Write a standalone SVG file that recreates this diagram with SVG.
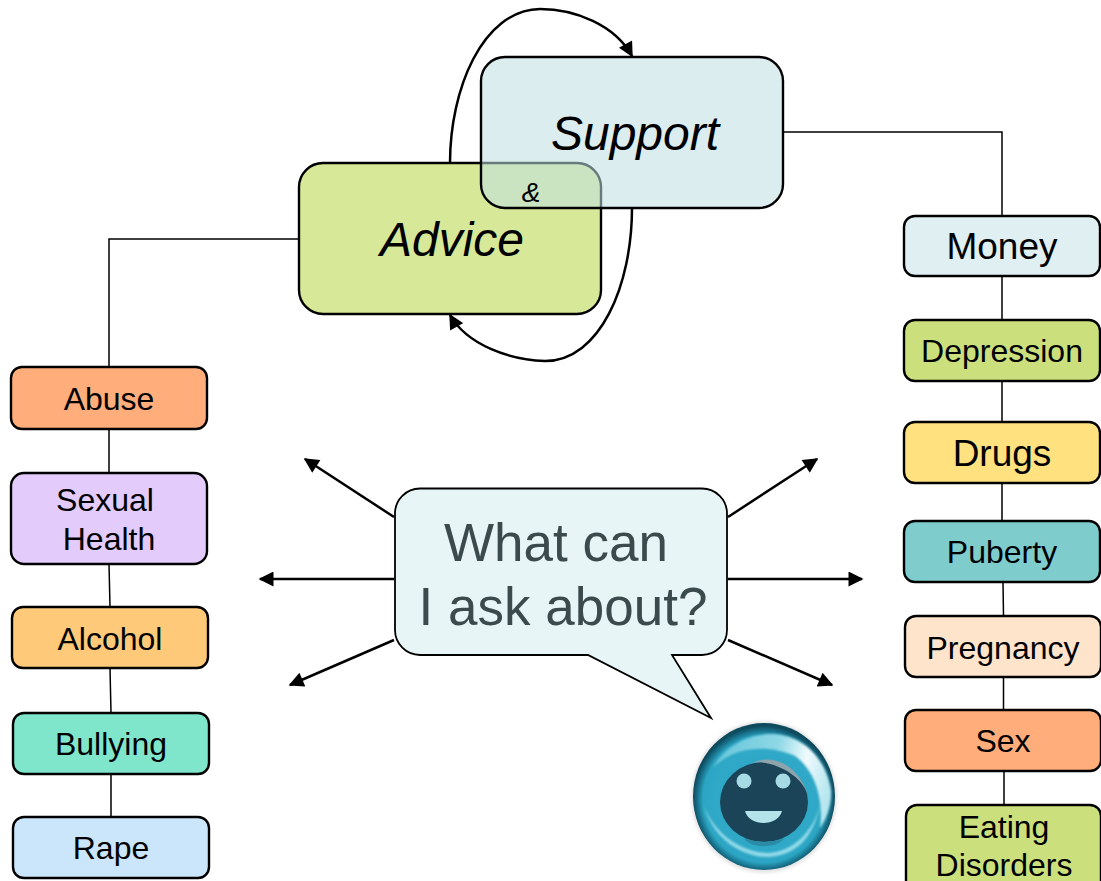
<svg xmlns="http://www.w3.org/2000/svg" width="1101" height="881" viewBox="0 0 1101 881">
<style>
text{font-family:"Liberation Sans",Arial,sans-serif;text-anchor:middle;fill:#000}
.n{stroke:#000;stroke-width:2.4}
.c{fill:none;stroke:#000;stroke-width:1.5}
.a{fill:none;stroke:#000;stroke-width:2.5}
.t{font-size:32px}
.b{font-size:37px}
</style>
<defs>
<marker id="ah" viewBox="0 0 10 10" refX="9" refY="5" markerWidth="16" markerHeight="15" markerUnits="userSpaceOnUse" orient="auto"><path d="M0 0L10 5L0 10Z"/></marker>
<radialGradient id="ring" cx=".5" cy=".52" r=".5"><stop offset="0" stop-color="#2aa3c2"/><stop offset=".7" stop-color="#2fa9c7"/><stop offset=".86" stop-color="#2ba5c3"/><stop offset=".94" stop-color="#176f88"/><stop offset="1" stop-color="#0e4a5e"/></radialGradient>
<linearGradient id="gloss" x1="0" y1=".3" x2="1" y2=".5"><stop offset="0" stop-color="#6fcadd" stop-opacity=".9"/><stop offset=".5" stop-color="#8fd8e6"/><stop offset=".75" stop-color="#f0fbfd"/><stop offset="1" stop-color="#b5e6ef"/></linearGradient>
<filter id="soft" x="-10%" y="-10%" width="120%" height="120%"><feGaussianBlur stdDeviation="1.500"/></filter>
<filter id="s1" x="-10%" y="-10%" width="120%" height="120%"><feGaussianBlur stdDeviation=".8"/></filter>
</defs>
<g id="connectors">
<path class="c" d="M783 132H1002V216"/>
<path class="c" d="M299 239H109V367"/>
<path class="c" d="M1002 276V320M1002 381V422M1002 483V521M1003 582L1003.500 616M1003.500 677V710M1004 771L1004 805"/>
<path class="c" d="M109 429V473M109 564L110 607M110 668L111 713M111 774V817"/>
<path class="a" d="M450 163C450 90 482 10 540 9C575 9 615 25 632 56" marker-end="url(#ah)"/>
<path class="a" d="M632 208C632 285 600 361 545 361C510 360 467 345 450 315" marker-end="url(#ah)"/>
<path class="a" d="M394 517L305 459" marker-end="url(#ah)"/>
<path class="a" d="M394 579H260" marker-end="url(#ah)"/>
<path class="a" d="M394 640L290 685" marker-end="url(#ah)"/>
<path class="a" d="M728 517L817 459" marker-end="url(#ah)"/>
<path class="a" d="M728 579H862" marker-end="url(#ah)"/>
<path class="a" d="M728 640L832 685" marker-end="url(#ah)"/>
</g>
<g id="advice"><rect class="n" x="299" y="163" width="302" height="151" rx="24" fill="#d7e998"/>
<text x="452" y="256" font-size="48" font-style="italic">Advice</text></g>
<g id="support"><rect x="481" y="57" width="302" height="151" rx="24" fill="#bfdee4" fill-opacity=".55" stroke="#000" stroke-width="2.400"/>
<text x="635" y="150" font-size="48" font-style="italic">Support</text></g>
<text x="531" y="202" font-size="28" font-style="italic">&amp;</text>
<g id="money"><rect class="n" x="904" y="216" width="196" height="60" rx="11" fill="#e0eff2"/><text x="1002" y="259" class="b">Money</text></g>
<g id="depression"><rect class="n" x="904" y="320" width="196" height="61" rx="11" fill="#cbe07c"/><text x="1002" y="362" class="t">Depression</text></g>
<g id="drugs"><rect class="n" x="904" y="422" width="196" height="61" rx="11" fill="#ffe27f"/><text x="1002" y="466" class="b">Drugs</text></g>
<g id="puberty"><rect class="n" x="904" y="521" width="196" height="61" rx="11" fill="#7fcccd"/><text x="1002" y="563" class="t">Puberty</text></g>
<g id="pregnancy"><rect class="n" x="905" y="616" width="196" height="61" rx="11" fill="#ffe4cc"/><text x="1003" y="659" class="t">Pregnancy</text></g>
<g id="sex"><rect class="n" x="905" y="710" width="196" height="61" rx="11" fill="#ffad7a"/><text x="1003" y="752" class="t">Sex</text></g>
<g id="eating"><path class="n" d="M917 805H1090a11 11 0 0 1 11 11V890H906V816a11 11 0 0 1 11-11Z" fill="#cbe07c"/><text x="1004" y="838" class="t">Eating</text><text x="1004" y="876" class="t">Disorders</text></g>
<g id="abuse"><rect class="n" x="11" y="367" width="196" height="62" rx="11" fill="#ffad7a"/><text x="109" y="410" class="t">Abuse</text></g>
<g id="sexual"><rect class="n" x="11" y="473" width="196" height="91" rx="13" fill="#e3cbfb"/><text x="105" y="511" class="t">Sexual</text><text x="109" y="550" class="t">Health</text></g>
<g id="alcohol"><rect class="n" x="12" y="607" width="196" height="61" rx="11" fill="#ffc97a"/><text x="110" y="650" class="t">Alcohol</text></g>
<g id="bullying"><rect class="n" x="13" y="713" width="196" height="61" rx="11" fill="#7fe5cb"/><text x="111" y="755" class="t">Bullying</text></g>
<g id="rape"><rect class="n" x="13" y="817" width="196" height="61" rx="11" fill="#cbe5fb"/><text x="111" y="859" class="t">Rape</text></g>
<g id="bubble"><path d="M420 488.500H702a25 25 0 0 1 25 25V630a25 25 0 0 1-25 25H672L711 718L588 655H420a25 25 0 0 1-25-25V513.500a25 25 0 0 1 25-25Z" fill="#e8f5f6" stroke="#000" stroke-width="1.800"/>
<text x="556" y="561" font-size="53" style="fill:#3b4a4c">What can</text>
<text x="563" y="625" font-size="53" style="fill:#3b4a4c">I ask about?</text></g>
<g id="face">
<ellipse cx="764" cy="797" rx="73" ry="76" fill="#ccc" opacity=".5" filter="url(#soft)"/>
<ellipse cx="764" cy="796.500" rx="71" ry="73.500" fill="url(#ring)"/>
<path d="M713 768C725 745 750 734 772 734C805 735 826 760 831 790C832 805 826 820 820 828C824 800 815 770 795 756C770 745 735 745 713 768Z" fill="url(#gloss)" filter="url(#s1)"/>
<path d="M704 806C714 842 745 857 768 857C795 856 815 838 821 800C815 832 792 852 768 853C742 852 716 836 704 806Z" fill="#a6e4f0" opacity=".85" filter="url(#s1)"/>
<ellipse cx="764" cy="802" rx="44" ry="40" fill="#1c4458"/>
<path d="M752 763C775 752 800 768 808 795C802 778 785 768 770 764C762 762 758 762 752 763Z" fill="#8ea4ad"/>
<path d="M744 838C755 843 775 843 784 838C778 849 750 849 744 838Z" fill="#2b8ba6"/>
<circle cx="744" cy="781" r="7.500" fill="#a6dbe6"/>
<circle cx="783" cy="781" r="7.500" fill="#a6dbe6"/>
<path d="M745 811H782C778 827 749 827 745 811Z" fill="#b4e3ea"/>
</g>
</svg>
